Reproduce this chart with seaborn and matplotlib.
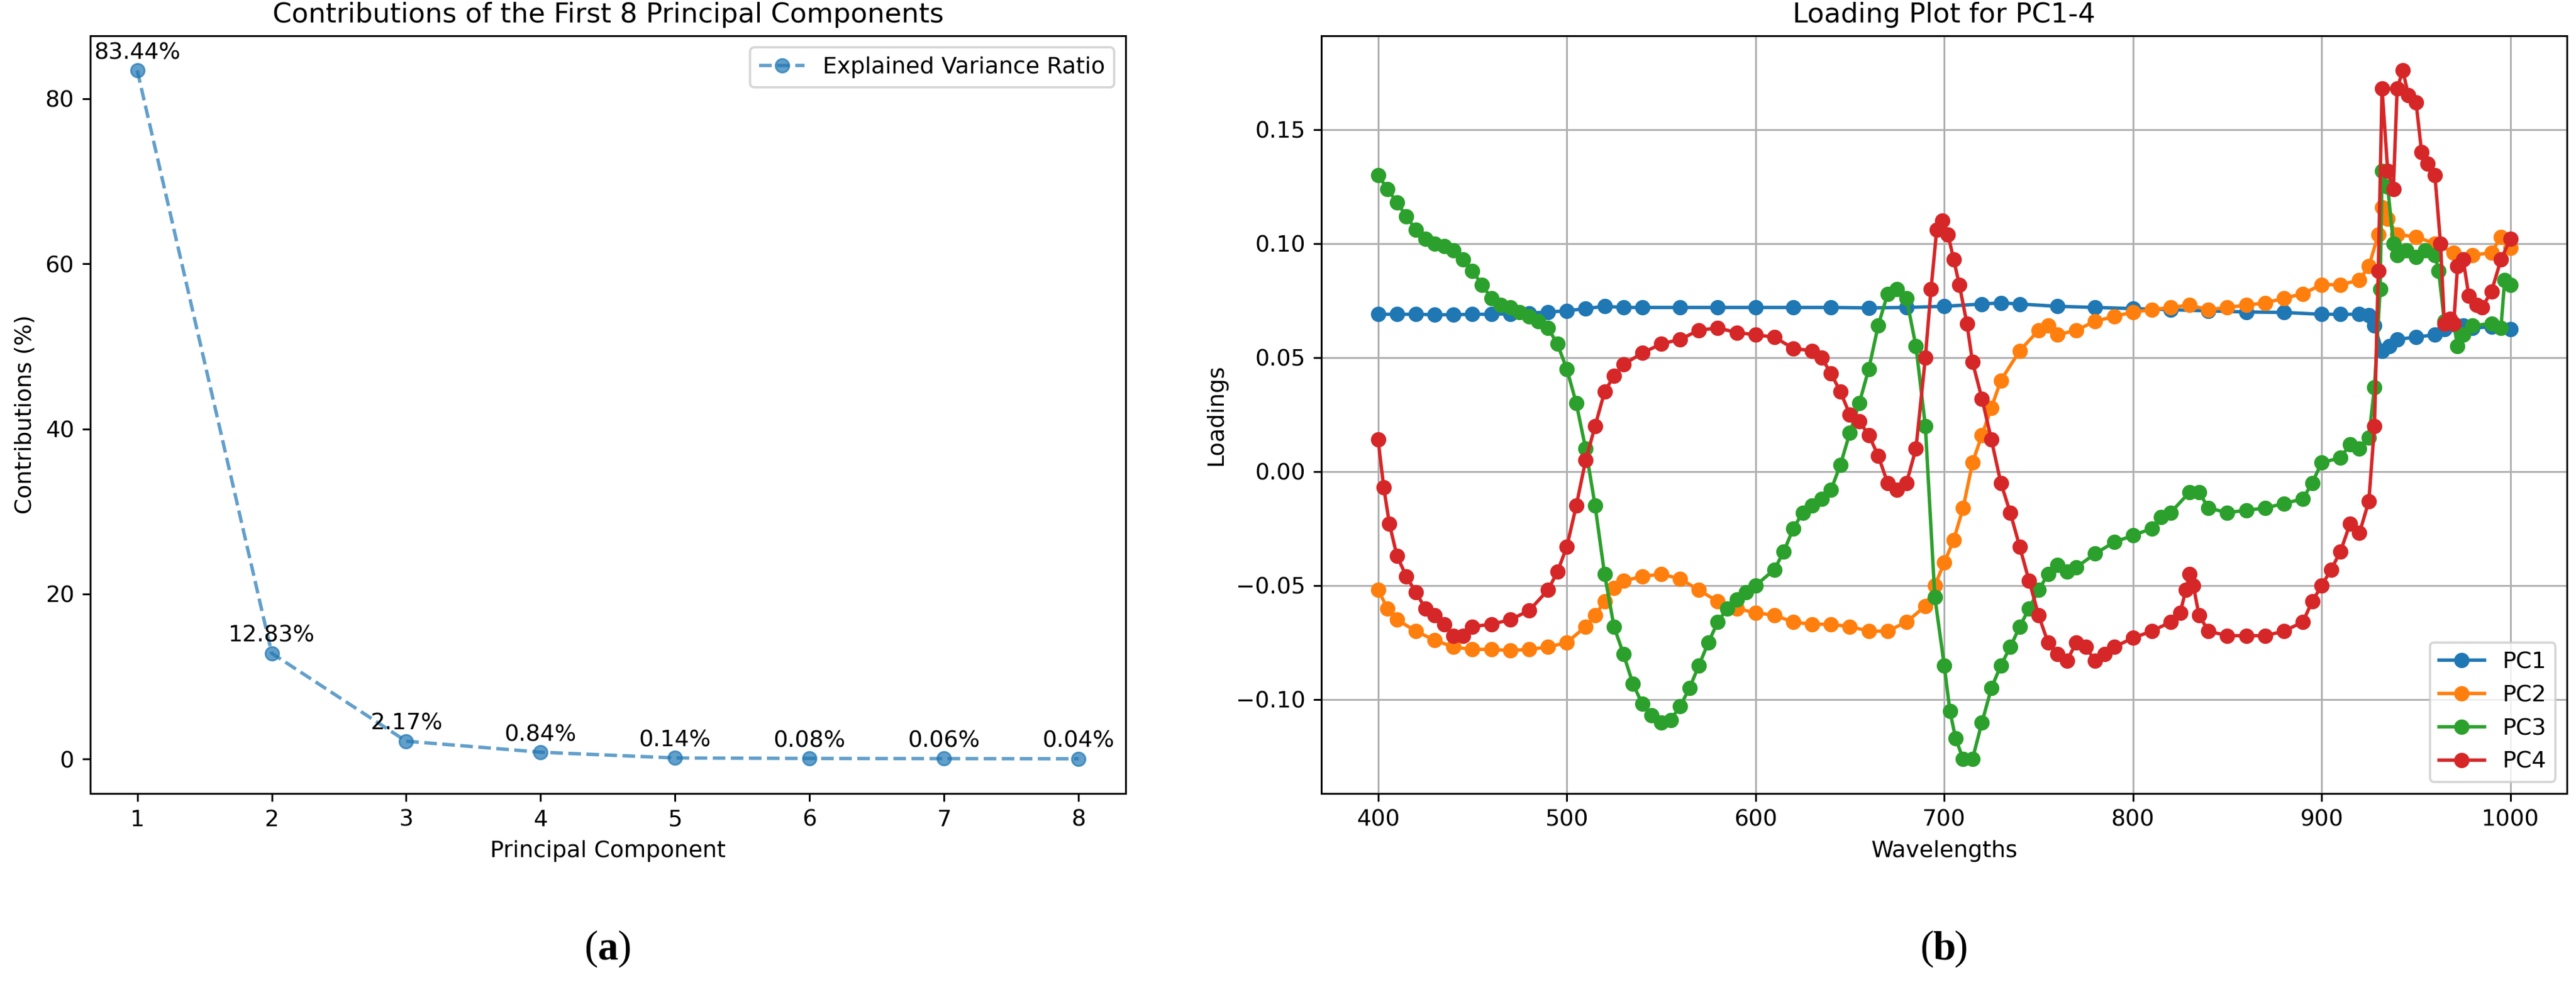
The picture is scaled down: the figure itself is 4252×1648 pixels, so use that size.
import matplotlib
matplotlib.use("Agg")
import matplotlib.pyplot as plt
import seaborn as sns
import numpy as np

# ---- data: left panel ----
pcs = [1, 2, 3, 4, 5, 6, 7, 8]
evr = [83.44, 12.83, 2.17, 0.84, 0.14, 0.08, 0.06, 0.04]

# ---- data: right panel (loadings) ----
pc1_x = [400, 410, 420, 430, 440, 450, 460, 470, 480, 490, 500, 510, 520, 530, 540, 560, 580, 600,
         620, 640, 660, 680, 700, 720, 730, 740, 760, 780, 800, 820, 840, 860, 880, 900, 910, 920,
         925, 928, 932, 936, 940, 950, 960, 965, 970, 975, 980, 990, 1000]
pc1_y = [0.069, 0.069, 0.069, 0.0688, 0.0688, 0.069, 0.069, 0.0692, 0.0695, 0.070, 0.0705, 0.0715,
         0.0725, 0.072, 0.072, 0.072, 0.072, 0.072, 0.072, 0.072, 0.0718, 0.072, 0.0725, 0.0735, 0.074,
         0.0735, 0.0725, 0.072, 0.0715, 0.071, 0.0705, 0.070, 0.0698, 0.069, 0.069, 0.069, 0.0685,
         0.064, 0.053, 0.055, 0.058, 0.059, 0.060, 0.0625, 0.0645, 0.064, 0.063, 0.0635, 0.0625]

pc2_x = [400, 405, 410, 420, 430, 440, 450, 460, 470, 480, 490, 500, 510, 515, 520, 525, 530, 540,
         550, 560, 570, 580, 590, 600, 610, 620, 630, 640, 650, 660, 670, 680, 690, 695, 700, 705,
         710, 715, 720, 725, 730, 740, 750, 755, 760, 770, 780, 790, 800, 810, 820, 830, 840, 850,
         860, 870, 880, 890, 900, 910, 920, 925, 930, 932, 935, 940, 950, 960, 970, 980, 990, 995, 1000]
pc2_y = [-0.052, -0.060, -0.065, -0.070, -0.074, -0.077, -0.078, -0.078, -0.0785, -0.078, -0.077,
         -0.075, -0.068, -0.063, -0.057, -0.051, -0.048, -0.046, -0.045, -0.047, -0.052, -0.057,
         -0.060, -0.062, -0.063, -0.066, -0.067, -0.067, -0.068, -0.070, -0.070, -0.066, -0.059,
         -0.050, -0.040, -0.030, -0.016, 0.004, 0.016, 0.028, 0.040, 0.053, 0.062, 0.064, 0.060,
         0.062, 0.066, 0.068, 0.070, 0.071, 0.072, 0.073, 0.071, 0.072, 0.073, 0.074, 0.076, 0.078,
         0.082, 0.082, 0.084, 0.090, 0.104, 0.116, 0.111, 0.104, 0.103, 0.100, 0.096, 0.095, 0.096,
         0.103, 0.098]

pc3_x = [400, 405, 410, 415, 420, 425, 430, 435, 440, 445, 450, 455, 460, 465, 470, 475, 480, 485,
         490, 495, 500, 505, 510, 515, 520, 525, 530, 535, 540, 545, 550, 555, 560, 565, 570, 575,
         580, 585, 590, 595, 600, 610, 615, 620, 625, 630, 635, 640, 645, 650, 655, 660, 665, 670,
         675, 680, 685, 690, 695, 700, 703, 706, 710, 715, 720, 725, 730, 735, 740, 745, 750, 755,
         760, 765, 770, 780, 790, 800, 810, 815, 820, 830, 835, 840, 850, 860, 870, 880, 890, 895,
         900, 910, 915, 920, 925, 928, 931, 932, 935, 938, 940, 945, 950, 955, 960, 962, 965, 970,
         972, 975, 980, 990, 995, 997, 1000]
pc3_y = [0.130, 0.124, 0.118, 0.112, 0.106, 0.102, 0.100, 0.099, 0.097, 0.093, 0.088, 0.082, 0.076,
         0.073, 0.072, 0.070, 0.068, 0.066, 0.063, 0.056, 0.045, 0.030, 0.010, -0.015, -0.045,
         -0.068, -0.080, -0.093, -0.102, -0.107, -0.110, -0.109, -0.103, -0.095, -0.085, -0.075,
         -0.066, -0.060, -0.056, -0.053, -0.050, -0.043, -0.035, -0.025, -0.018, -0.015, -0.012,
         -0.008, 0.003, 0.017, 0.030, 0.045, 0.064, 0.078, 0.080, 0.076, 0.055, 0.020, -0.055,
         -0.085, -0.105, -0.117, -0.126, -0.126, -0.110, -0.095, -0.085, -0.077, -0.068, -0.060,
         -0.052, -0.045, -0.041, -0.044, -0.042, -0.036, -0.031, -0.028, -0.025, -0.020, -0.018,
         -0.009, -0.009, -0.016, -0.018, -0.017, -0.016, -0.014, -0.012, -0.005, 0.004, 0.006,
         0.012, 0.010, 0.015, 0.037, 0.080, 0.132, 0.125, 0.100, 0.095, 0.097, 0.094, 0.097, 0.095,
         0.088, 0.066, 0.065, 0.055, 0.060, 0.064, 0.065, 0.063, 0.084, 0.082]

pc4_x = [400, 403, 406, 410, 415, 420, 425, 430, 435, 440, 445, 450, 460, 470, 480, 490, 495, 500,
         505, 510, 515, 520, 525, 530, 540, 550, 560, 570, 580, 590, 600, 610, 620, 630, 635, 640,
         645, 650, 655, 660, 665, 670, 675, 680, 685, 690, 693, 696, 699, 702, 705, 708, 712, 715,
         720, 725, 730, 735, 740, 745, 750, 755, 760, 765, 770, 775, 780, 785, 790, 800, 810, 820,
         825, 828, 830, 832, 835, 840, 850, 860, 870, 880, 890, 895, 900, 905, 910, 915, 920, 925,
         928, 930, 932, 935, 938, 940, 943, 946, 950, 953, 956, 960, 963, 965, 968, 970, 972, 975,
         978, 982, 985, 990, 995, 1000]
pc4_y = [0.014, -0.007, -0.023, -0.037, -0.046, -0.053, -0.060, -0.063, -0.067, -0.072, -0.072,
         -0.068, -0.067, -0.065, -0.061, -0.052, -0.044, -0.033, -0.015, 0.005, 0.020, 0.035, 0.042,
         0.047, 0.052, 0.056, 0.058, 0.062, 0.063, 0.061, 0.060, 0.059, 0.054, 0.053, 0.050, 0.043,
         0.035, 0.025, 0.022, 0.016, 0.007, -0.005, -0.008, -0.005, 0.010, 0.050, 0.080, 0.106,
         0.110, 0.104, 0.093, 0.082, 0.065, 0.048, 0.032, 0.014, -0.005, -0.018, -0.033, -0.048,
         -0.063, -0.075, -0.080, -0.083, -0.075, -0.077, -0.083, -0.080, -0.077, -0.073, -0.070,
         -0.066, -0.062, -0.052, -0.045, -0.050, -0.063, -0.070, -0.072, -0.072, -0.072, -0.070,
         -0.066, -0.057, -0.050, -0.043, -0.035, -0.023, -0.027, -0.013, 0.020, 0.088, 0.168, 0.132,
         0.124, 0.168, 0.176, 0.165, 0.162, 0.140, 0.135, 0.130, 0.100, 0.065, 0.067, 0.065, 0.090,
         0.093, 0.077, 0.073, 0.072, 0.079, 0.093, 0.102]

series = [("PC1", pc1_x, pc1_y, "#1f77b4"), ("PC2", pc2_x, pc2_y, "#ff7f0e"),
          ("PC3", pc3_x, pc3_y, "#2ca02c"), ("PC4", pc4_x, pc4_y, "#d62728")]

fig = plt.figure(figsize=(4252 / 270, 1648 / 270), dpi=270)
ax1 = fig.add_axes([0.035, 0.206, 0.402, 0.758])
ax2 = fig.add_axes([0.513, 0.206, 0.4835, 0.758])

# left panel
c = "#1f77b4"
sns.lineplot(x=pcs, y=evr, ax=ax1, marker="o", linestyle="--", color=c, alpha=0.7,
             markeredgecolor=c, label="Explained Variance Ratio")
for xv, yv in zip(pcs, evr):
    ax1.annotate(f"{yv:.2f}%", (xv, yv), textcoords="offset points", xytext=(0, 5),
                 ha="center", fontsize=10)
ax1.set_title("Contributions of the First 8 Principal Components")
ax1.set_xlabel("Principal Component")
ax1.set_ylabel("Contributions (%)")
ax1.set_xticks(pcs)
ax1.legend(loc="upper right")

# right panel
for name, xs, ys, col in series:
    sns.lineplot(x=xs, y=ys, ax=ax2, marker="o", color=col, markeredgecolor=col,
                 label=name, linewidth=1.5, markersize=6)
ax2.set_title("Loading Plot for PC1-4")
ax2.set_xlabel("Wavelengths")
ax2.set_ylabel("Loadings")
ax2.set_xticks([400, 500, 600, 700, 800, 900, 1000])
ax2.set_yticks([-0.10, -0.05, 0.0, 0.05, 0.10, 0.15])
ax2.set_xlim(370, 1030)
ax2.grid(True)
ax2.legend(loc="lower right")

for ax, lab in [(ax1, "a"), (ax2, "b")]:
    pos = ax.get_position()
    xc = (pos.x0 + pos.x1) / 2
    fig.text(xc - 0.0065, 0.05, "(", ha="center", va="center", fontsize=18, family="Liberation Serif")
    fig.text(xc, 0.05, lab, ha="center", va="center", fontsize=18, family="Liberation Serif",
             weight="bold")
    fig.text(xc + 0.0065, 0.05, ")", ha="center", va="center", fontsize=18, family="Liberation Serif")

fig.savefig("out.png", dpi=270)
